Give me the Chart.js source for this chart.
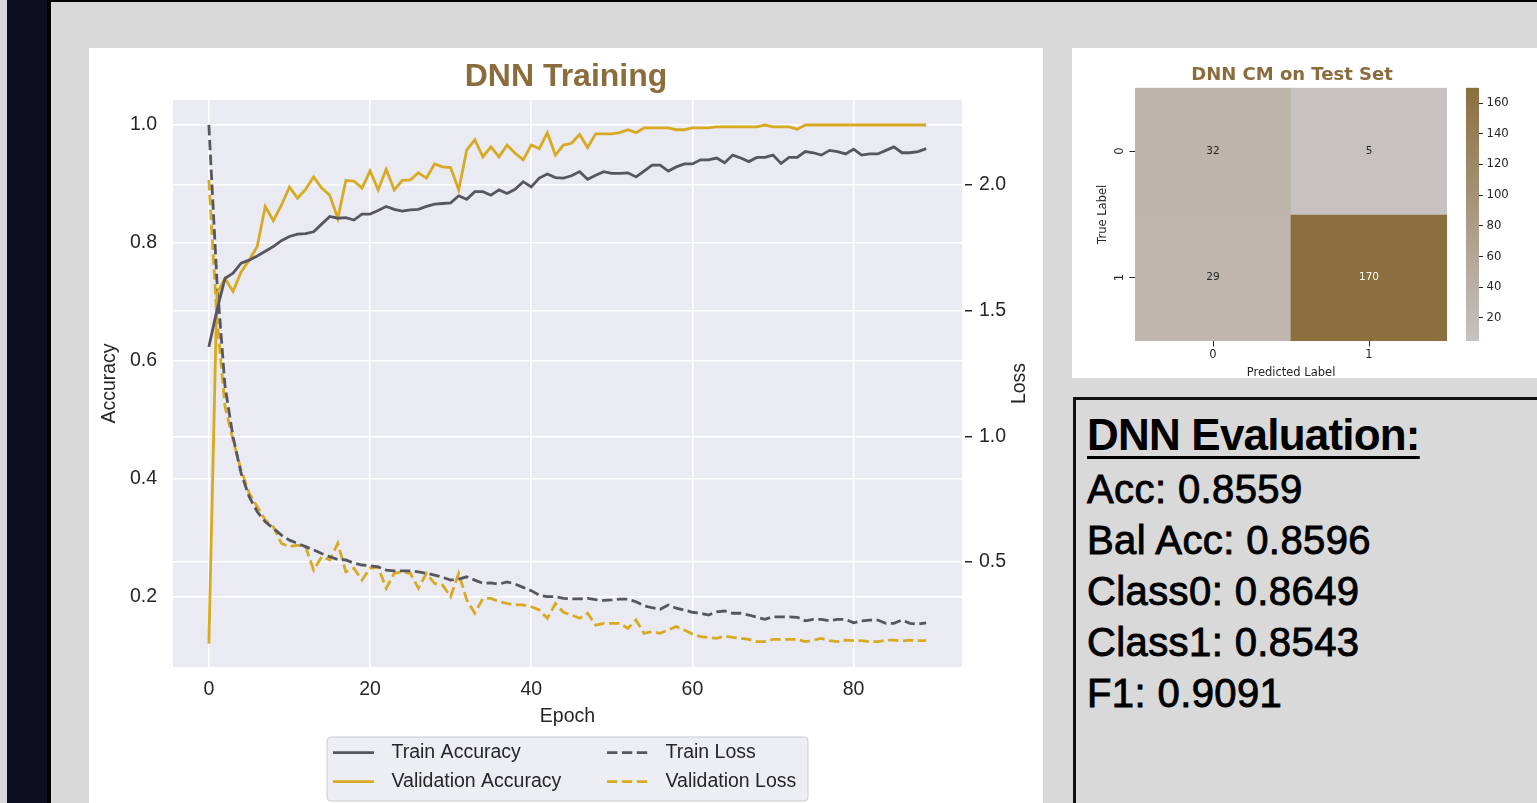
<!DOCTYPE html>
<html><head><meta charset="utf-8">
<script src="https://cdn.jsdelivr.net/npm/chart.js@4.4.1/dist/chart.umd.min.js"></script>
<style>
html,body{margin:0;padding:0;}
body{width:1537px;height:803px;background:#d9d9d9;position:relative;overflow:hidden;font-family:'Liberation Sans',Arial,sans-serif;}
.abs{position:absolute;}
#strip{left:7px;top:0;width:40px;height:803px;background:#0b0f1f;}
#stripEdge{left:47px;top:0;width:4px;height:803px;background:#000;}
#topLine{left:47px;top:0;width:1490px;height:2px;background:#000;}
#mainPanel{left:89px;top:48px;width:954px;height:755px;background:#fff;}
#cmPanel{left:1072px;top:48px;width:465px;height:330px;background:#fff;}
#evalBox{left:1073px;top:397px;width:480px;height:420px;border:3px solid #111;box-sizing:border-box;}
canvas{position:absolute;}
.ev{position:absolute;left:1087px;white-space:nowrap;color:#000;font-family:'Liberation Sans',Arial,sans-serif;}
.ev.h{font-size:44px;font-weight:bold;letter-spacing:-0.8px;text-decoration:underline;text-decoration-thickness:3px;text-underline-offset:6px;line-height:44px;}
.ev.l{font-size:40px;line-height:40px;letter-spacing:0.4px;-webkit-text-stroke:0.9px #000;}
</style>
</head>
<body>
<div class="abs" id="strip"></div>
<div class="abs" id="stripEdge"></div>
<div class="abs" id="topLine"></div>
<div class="abs" id="mainPanel"></div>
<div class="abs" id="cmPanel"></div>
<div class="abs" id="evalBox"></div>
<canvas id="main" width="954" height="755" style="left:89px;top:48px;width:954px;height:755px;"></canvas>
<canvas id="cm" width="383" height="332" style="left:1072px;top:48px;width:383px;height:332px;"></canvas>
<canvas id="cbar" width="82" height="332" style="left:1455px;top:48px;width:82px;height:332px;"></canvas>
<div id="evalText"></div>
<script>
// ---------------- DATA ----------------
const epochs = [0,1,2,3,4,5,6,7,8,9,10,11,12,13,14,15,16,17,18,19,20,21,22,23,24,25,26,27,28,29,30,31,32,33,34,35,36,37,38,39,40,41,42,43,44,45,46,47,48,49,50,51,52,53,54,55,56,57,58,59,60,61,62,63,64,65,66,67,68,69,70,71,72,73,74,75,76,77,78,79,80,81,82,83,84,85,86,87,88,89];
const trainAcc = [0.624,0.686,0.740,0.749,0.766,0.771,0.778,0.786,0.794,0.804,0.811,0.815,0.816,0.819,0.832,0.845,0.842,0.843,0.839,0.849,0.849,0.855,0.862,0.857,0.854,0.856,0.857,0.862,0.866,0.867,0.868,0.880,0.874,0.887,0.887,0.881,0.890,0.884,0.891,0.904,0.895,0.910,0.917,0.911,0.910,0.914,0.921,0.908,0.915,0.921,0.918,0.918,0.919,0.912,0.922,0.932,0.932,0.922,0.929,0.934,0.934,0.941,0.941,0.944,0.936,0.949,0.944,0.938,0.945,0.945,0.949,0.935,0.945,0.945,0.955,0.953,0.949,0.957,0.955,0.951,0.959,0.949,0.951,0.951,0.957,0.963,0.953,0.953,0.955,0.960];
const valAcc = [0.121,0.715,0.740,0.718,0.751,0.771,0.794,0.862,0.838,0.864,0.895,0.876,0.891,0.912,0.893,0.881,0.842,0.906,0.905,0.893,0.922,0.890,0.925,0.890,0.906,0.907,0.919,0.910,0.934,0.929,0.928,0.890,0.958,0.975,0.946,0.963,0.946,0.966,0.952,0.941,0.966,0.960,0.987,0.949,0.966,0.969,0.984,0.962,0.985,0.985,0.985,0.987,0.992,0.987,0.995,0.995,0.995,0.995,0.992,0.992,0.995,0.995,0.995,0.997,0.997,0.997,0.997,0.997,0.997,1.000,0.997,0.997,0.997,0.993,1.000,1.000,1.000,1.000,1.000,1.000,1.000,1.000,1.000,1.000,1.000,1.000,1.000,1.000,1.000,1.000];
const trainLoss = [2.239,1.62,1.20,0.998,0.853,0.760,0.700,0.660,0.634,0.607,0.587,0.574,0.561,0.548,0.534,0.521,0.510,0.508,0.495,0.488,0.485,0.481,0.468,0.465,0.465,0.465,0.461,0.455,0.448,0.439,0.428,0.432,0.441,0.428,0.415,0.417,0.412,0.421,0.412,0.399,0.386,0.368,0.362,0.362,0.355,0.353,0.353,0.355,0.350,0.347,0.349,0.352,0.352,0.342,0.326,0.318,0.312,0.329,0.316,0.309,0.300,0.296,0.289,0.302,0.305,0.296,0.296,0.289,0.280,0.272,0.282,0.282,0.282,0.280,0.266,0.272,0.272,0.266,0.272,0.272,0.258,0.266,0.269,0.269,0.256,0.256,0.269,0.256,0.253,0.258];
const valLoss = [2.02,1.47,1.12,0.985,0.866,0.774,0.720,0.667,0.640,0.574,0.561,0.567,0.561,0.468,0.521,0.508,0.574,0.461,0.475,0.428,0.475,0.480,0.395,0.455,0.461,0.455,0.395,0.455,0.415,0.408,0.362,0.455,0.349,0.296,0.355,0.355,0.342,0.335,0.329,0.329,0.322,0.309,0.276,0.335,0.300,0.289,0.276,0.296,0.249,0.256,0.256,0.256,0.236,0.269,0.216,0.223,0.216,0.230,0.243,0.229,0.213,0.203,0.200,0.196,0.205,0.200,0.196,0.192,0.183,0.183,0.192,0.192,0.192,0.192,0.183,0.189,0.196,0.187,0.183,0.189,0.187,0.187,0.183,0.183,0.189,0.189,0.186,0.189,0.187,0.187];
const xTicks = [0,20,40,60,80];
const accTicks = [0.2,0.4,0.6,0.8,1.0];
const lossTicks = [0.5,1.0,1.5,2.0];

const predLabels = ['0','1'];
const trueLabels = ['0','1'];
const cmRow0 = [32,5];
const cmRow1 = [29,170];
const cbarTicks = [20,40,60,80,100,120,140,160];

const evalNames = ['Acc','Bal Acc','Class0','Class1','F1'];
const evalValues = [0.8559,0.8596,0.8649,0.8543,0.9091];

// ---------------- STYLE ----------------
const F = "'Liberation Sans', Arial, sans-serif";
const DJ = "'DejaVu Sans', sans-serif";
const TXT = '#262626';
const GREY = '#57565f';
const GOLD = '#d8aa22';
const BROWN = '#8b6c3c';
const LW = 2.8;
const DASH = [10.4, 4.5];
Chart.defaults.font.family = F;

// ---------------- MAIN CHART ----------------
const plotBg = {id:'plotBg', beforeDraw(c){const {ctx, chartArea:a}=c; ctx.save(); ctx.fillStyle='#eaeaf2'; ctx.fillRect(a.left,a.top,a.right-a.left,a.bottom-a.top); ctx.restore();}};
const lossTitle = {id:'lossTitle', afterDraw(c){const {ctx, chartArea:a}=c; ctx.save(); ctx.translate(930.5,(a.top+a.bottom)/2); ctx.rotate(-Math.PI/2); ctx.font='19.5px '+F; ctx.fillStyle=TXT; ctx.textAlign='center'; ctx.textBaseline='middle'; ctx.fillText('Loss',0,0); ctx.restore();}};
const colLegend = {id:'colLegend', afterDraw(c){
  const ctx=c.ctx;
  const bx=238, by=689, bw=481, bh=64, r=4;
  ctx.save();
  ctx.beginPath();
  ctx.moveTo(bx+r,by); ctx.lineTo(bx+bw-r,by); ctx.quadraticCurveTo(bx+bw,by,bx+bw,by+r);
  ctx.lineTo(bx+bw,by+bh-r); ctx.quadraticCurveTo(bx+bw,by+bh,bx+bw-r,by+bh);
  ctx.lineTo(bx+r,by+bh); ctx.quadraticCurveTo(bx,by+bh,bx,by+bh-r);
  ctx.lineTo(bx,by+r); ctx.quadraticCurveTo(bx,by,bx+r,by); ctx.closePath();
  ctx.fillStyle='rgba(234,234,242,0.85)'; ctx.fill();
  ctx.strokeStyle='#cccccc'; ctx.lineWidth=1; ctx.stroke();
  const cols=[[0,1],[2,3]]; const colX=[244,518]; const rowY=[704.7,733.7];
  cols.forEach((col,ci)=>col.forEach((di,ri)=>{
    const ds=c.data.datasets[di];
    ctx.strokeStyle=ds.borderColor; ctx.lineWidth=ds.borderWidth; ctx.setLineDash(ds.borderDash||[]);
    ctx.beginPath(); ctx.moveTo(colX[ci],rowY[ri]); ctx.lineTo(colX[ci]+41,rowY[ri]); ctx.stroke();
    ctx.setLineDash([]);
    ctx.fillStyle=TXT; ctx.font='19.5px '+F; ctx.textBaseline='middle'; ctx.textAlign='left';
    ctx.fillText(ds.label,colX[ci]+58.5,rowY[ri]);
  }));
  ctx.restore();
}};

new Chart(document.getElementById('main'), {
  type:'line',
  data:{
    labels: epochs,
    datasets:[
      {label:'Train Accuracy', data:trainAcc, yAxisID:'yAcc', borderColor:GREY, borderWidth:LW, pointRadius:0, tension:0, fill:false},
      {label:'Validation Accuracy', data:valAcc, yAxisID:'yAcc', borderColor:GOLD, borderWidth:LW, pointRadius:0, tension:0, fill:false},
      {label:'Train Loss', data:trainLoss, yAxisID:'yLoss', borderColor:GREY, borderWidth:LW, borderDash:DASH, pointRadius:0, tension:0, fill:false},
      {label:'Validation Loss', data:valLoss, yAxisID:'yLoss', borderColor:GOLD, borderWidth:LW, borderDash:DASH, pointRadius:0, tension:0, fill:false}
    ]
  },
  options:{
    responsive:false, animation:false, devicePixelRatio:1,
    layout:{padding:{left:0,right:0,top:0,bottom:74}},
    plugins:{
      legend:{display:false}, tooltip:{enabled:false},
      title:{display:true, text:'DNN Training', color:BROWN, font:{family:F,size:32,weight:'bold'}, padding:{top:10,bottom:3.6}}
    },
    scales:{
      x:{type:'linear', min:-4.45, max:93.45,
        afterBuildTicks:s=>{s.ticks=xTicks.map(v=>({value:v}));},
        afterFit:s=>{s.height=62;},
        grid:{color:'#ffffff', lineWidth:1.6, drawTicks:false},
        border:{display:false},
        ticks:{padding:11.3, color:TXT, font:{family:F,size:19.5}, callback:v=>String(v)},
        title:{display:true, text:'Epoch', color:TXT, font:{family:F,size:19.5}, padding:{top:0,bottom:0.5}}
      },
      yAcc:{type:'linear', position:'left', min:0.0814, max:1.0424,
        afterBuildTicks:s=>{s.ticks=accTicks.map(v=>({value:v}));},
        afterFit:s=>{s.width=84;},
        grid:{color:'#ffffff', lineWidth:1.6, drawTicks:false},
        border:{display:false},
        ticks:{padding:16, color:TXT, font:{family:F,size:19.5}, callback:v=>v.toFixed(1)},
        title:{display:true, text:'Accuracy', color:TXT, font:{family:F,size:19.5}, padding:{top:9.3,bottom:0}}
      },
      yLoss:{type:'linear', position:'right', min:0.0822, max:2.3382,
        afterBuildTicks:s=>{s.ticks=lossTicks.map(v=>({value:v}));},
        afterFit:s=>{s.width=81;},
        grid:{color:'#ffffff', lineWidth:1.6, drawTicks:true, tickLength:10, tickColor:TXT, tickWidth:1.4, tickBorderDash:[0,3,7,10]},
        border:{display:false},
        ticks:{padding:7, color:TXT, font:{family:F,size:19.5}, callback:v=>v.toFixed(1)}
      }
    }
  },
  plugins:[plotBg, colLegend, lossTitle]
});

// ---------------- CONFUSION MATRIX ----------------
const cmRows = [cmRow0, cmRow1];
const allCm = cmRows.flat();
const vmin = Math.min(...allCm), vmax = Math.max(...allCm);
const LOW = [198,194,194], HIGH = [140,111,62];
function cmap(v){const t=(v-vmin)/(vmax-vmin); const c=LOW.map((l,i)=>Math.round(l+(HIGH[i]-l)*t)); return 'rgb('+c.join(',')+')';}
const cmFont = {family:DJ, size:11.5};

const cmTitle = {id:'cmTitle', afterDraw(c){const {ctx, chartArea:a}=c; ctx.save(); ctx.font='bold 18px '+DJ; ctx.fillStyle=BROWN; ctx.textAlign='center'; ctx.textBaseline='middle'; ctx.fillText('DNN CM on Test Set',(a.left+a.right)/2+1,27.5); ctx.restore();}};
const cmAnnot = {id:'cmAnnot', afterDatasetsDraw(c){
  const ctx=c.ctx; ctx.save(); ctx.font='10.5px '+DJ; ctx.textAlign='center'; ctx.textBaseline='middle';
  c.data.datasets.forEach((ds,di)=>{
    c.getDatasetMeta(di).data.forEach((bar,j)=>{
      const p=bar.getProps(['x','y','base'],true);
      const v=ds.cmValues[j];
      ctx.fillStyle=((v-vmin)/(vmax-vmin))>0.5?'#ffffff':TXT;
      ctx.fillText(String(v),p.x,(p.y+p.base)/2);
    });
  });
  ctx.restore();
}};

new Chart(document.getElementById('cm'), {
  type:'bar',
  data:{
    labels: predLabels,
    datasets: cmRows.map((row,r)=>({
      label: trueLabels[r],
      data: row.map(()=>[r, r+1]),
      cmValues: row,
      backgroundColor: row.map(cmap),
      borderWidth:0, barPercentage:1, categoryPercentage:1, grouped:false
    }))
  },
  options:{
    responsive:false, animation:false, devicePixelRatio:1,
    layout:{padding:{left:0,right:8,top:39.7,bottom:0}},
    plugins:{legend:{display:false}, tooltip:{enabled:false}, title:{display:false}},
    scales:{
      x:{type:'category', offset:true,
        afterFit:s=>{s.height=39;},
        grid:{offset:false, drawOnChartArea:false, drawTicks:true, tickLength:5.5, tickColor:TXT},
        border:{display:false},
        ticks:{padding:1.6, color:TXT, font:cmFont},
        title:{display:true, text:'Predicted Label', color:TXT, font:cmFont, padding:{top:0,bottom:0}}
      },
      y:{type:'linear', reverse:true, min:0, max:2,
        afterBuildTicks:s=>{s.ticks=trueLabels.map((_,i)=>({value:i+0.5}));},
        afterFit:s=>{s.width=63;},
        grid:{drawOnChartArea:false, drawTicks:true, tickLength:5.5, tickColor:TXT},
        border:{display:false},
        ticks:{padding:5.8, minRotation:90, maxRotation:90, crossAlign:'center', color:TXT, font:cmFont, callback:(v,i)=>trueLabels[i]},
        title:{display:true, text:'True Label', color:TXT, font:cmFont, padding:{top:24,bottom:0}}
      }
    }
  },
  plugins:[cmTitle, cmAnnot]
});

// ---------------- COLORBAR ----------------
new Chart(document.getElementById('cbar'), {
  type:'bar',
  data:{
    labels:[''],
    datasets:[{
      data:[[vmin,vmax]],
      backgroundColor:(ctx)=>{const a=ctx.chart.chartArea; if(!a) return cmap(vmin); const g=ctx.chart.ctx.createLinearGradient(0,a.bottom,0,a.top); g.addColorStop(0,cmap(vmin)); g.addColorStop(1,cmap(vmax)); return g;},
      borderWidth:0, barPercentage:1, categoryPercentage:1
    }]
  },
  options:{
    responsive:false, animation:false, devicePixelRatio:1,
    layout:{padding:{left:11,right:0,top:39.7,bottom:39}},
    plugins:{legend:{display:false}, tooltip:{enabled:false}},
    scales:{
      x:{display:false},
      y:{type:'linear', position:'right', min:vmin, max:vmax,
        afterBuildTicks:s=>{s.ticks=cbarTicks.map(v=>({value:v}));},
        afterFit:s=>{s.width=58;},
        grid:{drawOnChartArea:false, drawTicks:true, tickLength:4, tickColor:TXT},
        border:{display:false},
        ticks:{padding:3.5, color:TXT, font:{family:DJ,size:11.7}}
      }
    }
  }
});

// ---------------- EVALUATION TEXT ----------------
(function(){
  const host=document.getElementById('evalText');
  const h=document.createElement('div'); h.className='ev h'; h.style.top='413.4px'; h.textContent='DNN Evaluation:'; host.appendChild(h);
  evalNames.forEach((n,i)=>{
    const d=document.createElement('div'); d.className='ev l'; d.style.top=(468.8+i*51)+'px';
    d.textContent=n+': '+evalValues[i].toFixed(4); host.appendChild(d);
  });
})();
</script>
</body></html>
